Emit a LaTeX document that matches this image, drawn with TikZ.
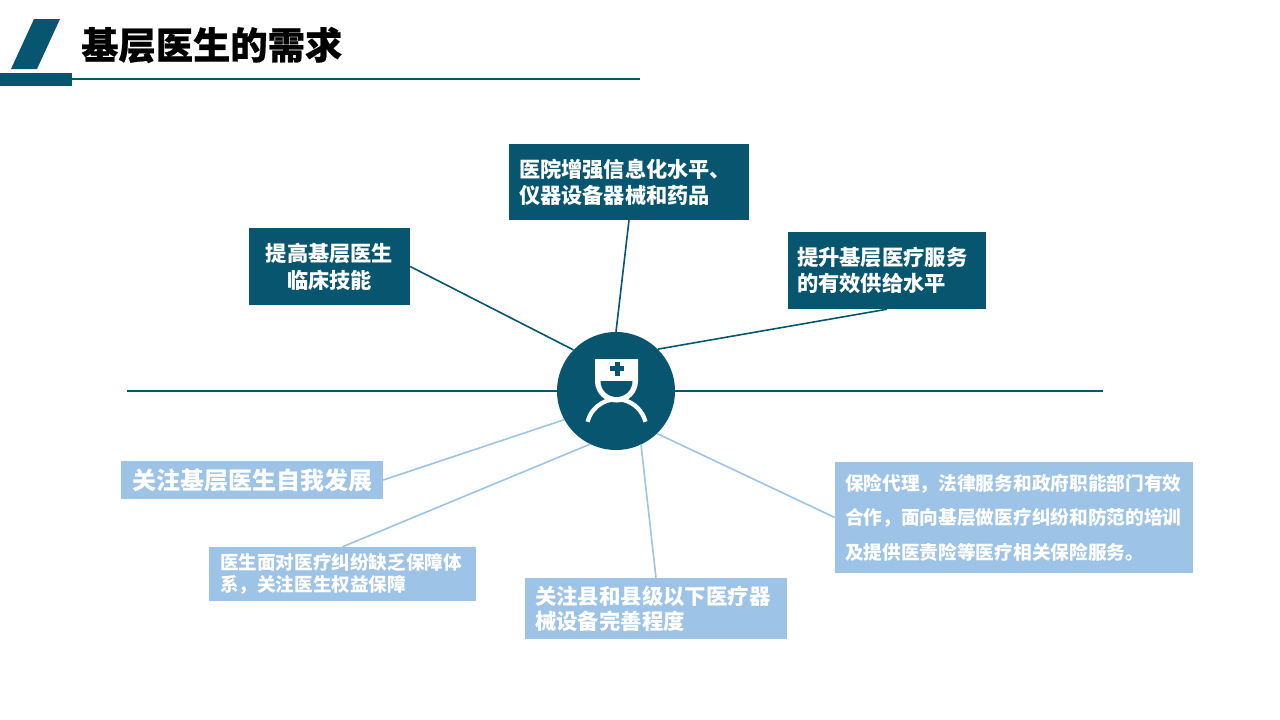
\documentclass[tikz,border=0pt]{standalone}
\usepackage{fontspec}
\setmainfont{Noto Sans CJK SC}
\newfontfamily\heavy{Noto Sans CJK SC}[BoldFeatures={FakeBold=0.6}]
\definecolor{dk}{HTML}{08556F}
\definecolor{lt}{HTML}{9DC3E6}
\tikzset{
  darkbox/.style={fill=dk, text=white, font=\bfseries, inner sep=0pt, minimum height=#1},
  lightbox/.style={fill=lt, text=white, font=\bfseries, inner sep=0pt, minimum height=#1},
  dline/.style={draw=dk, line width=1.6pt},
  lline/.style={draw=lt, line width=1.6pt},
}
\begin{document}
\begin{tikzpicture}[x=1pt,y=-1pt]
\useasboundingbox (0,0) rectangle (1280,720);
% header
\fill[dk] (11,69) -- (37,69) -- (60,19) -- (34,19) -- cycle;
\fill[dk] (0,73) rectangle (72,86);
\draw[dk, line width=1.8pt] (72,79) -- (640,79);
\node[anchor=west, inner sep=0pt, font=\fontsize{37.3}{42}\selectfont\heavy\bfseries] (title) at (81,45) {基层医生的需求};
% horizontal line
\coordinate (hl) at (127,391);
\coordinate (hr) at (1103,391);
\draw[dk, line width=1.6pt] (hl) -- (hr);
% center circle
\node[circle, fill=dk, minimum size=118pt, inner sep=0pt] (c) at (616,391) {};
% icon
\fill[white] (595,359) -- (638,359) -- (638,381) arc[start angle=0, end angle=-180, radius=21.5pt] -- cycle;
\fill[dk] (632.5,381) arc[start angle=0, end angle=-180, radius=16pt] -- cycle;
\fill[dk] (610,366) rectangle (624,371);
\fill[dk] (614.5,361.5) rectangle (619.5,375.5);
\draw[white, line width=4.3pt] (616.5,429) ++(166:29.8pt) arc[start angle=166, end angle=14, radius=29.8pt];
% nodes
\node[darkbox=76pt, minimum width=240pt, text width=220pt, align=left, font=\fontsize{21.2}{26}\selectfont\bfseries] (n1) at (629,182) {医院增强信息化水平、\\仪器设备器械和药品};
\node[darkbox=77pt, minimum width=161pt, align=center, font=\fontsize{21.2}{27}\selectfont\bfseries] (n2) at (329.5,266.5) {提高基层医生\\临床技能};
\node[darkbox=77pt, minimum width=198pt, text width=180pt, align=left, font=\fontsize{21.3}{26}\selectfont\bfseries] (n3) at (887,270.5) {提升基层医疗服务\\的有效供给水平};
\node[lightbox=38pt, minimum width=262pt, align=center, font=\fontsize{24}{28}\selectfont\bfseries] (n4) at (252,480) {关注基层医生自我发展};
\node[lightbox=54pt, minimum width=267pt, text width=245pt, align=left, font=\fontsize{18.6}{22}\selectfont\bfseries] (n5) at (342.5,574) {医生面对医疗纠纷缺乏保障体\\系，关注医生权益保障};
\node[lightbox=61pt, minimum width=262pt, text width=242pt, align=left, font=\fontsize{21.4}{25}\selectfont\bfseries] (n6) at (656,608.5) {关注县和县级以下医疗器\\械设备完善程度};
\node[lightbox=111pt, minimum width=358pt, text width=338pt, align=left, font=\fontsize{18.7}{34.5}\selectfont\bfseries] (n7) at (1014,517.5) {保险代理，法律服务和政府职能部门有效\\合作，面向基层做医疗纠纷和防范的培训\\及提供医责险等医疗相关保险服务。};
% connectors
\draw[dline] (n1.south) -- (c.90);
\draw[dline] (n2.east) -- (c.136);
\draw[dline] (n3.south) -- (c.45);
\draw[lline] (n4.east) -- (c.209.6);
\draw[lline] (n5.north) -- (c.244);
\draw[lline] (n6.north) -- (c.295);
\draw[lline] (n7.west) -- (c.314);
\end{tikzpicture}
\end{document}
